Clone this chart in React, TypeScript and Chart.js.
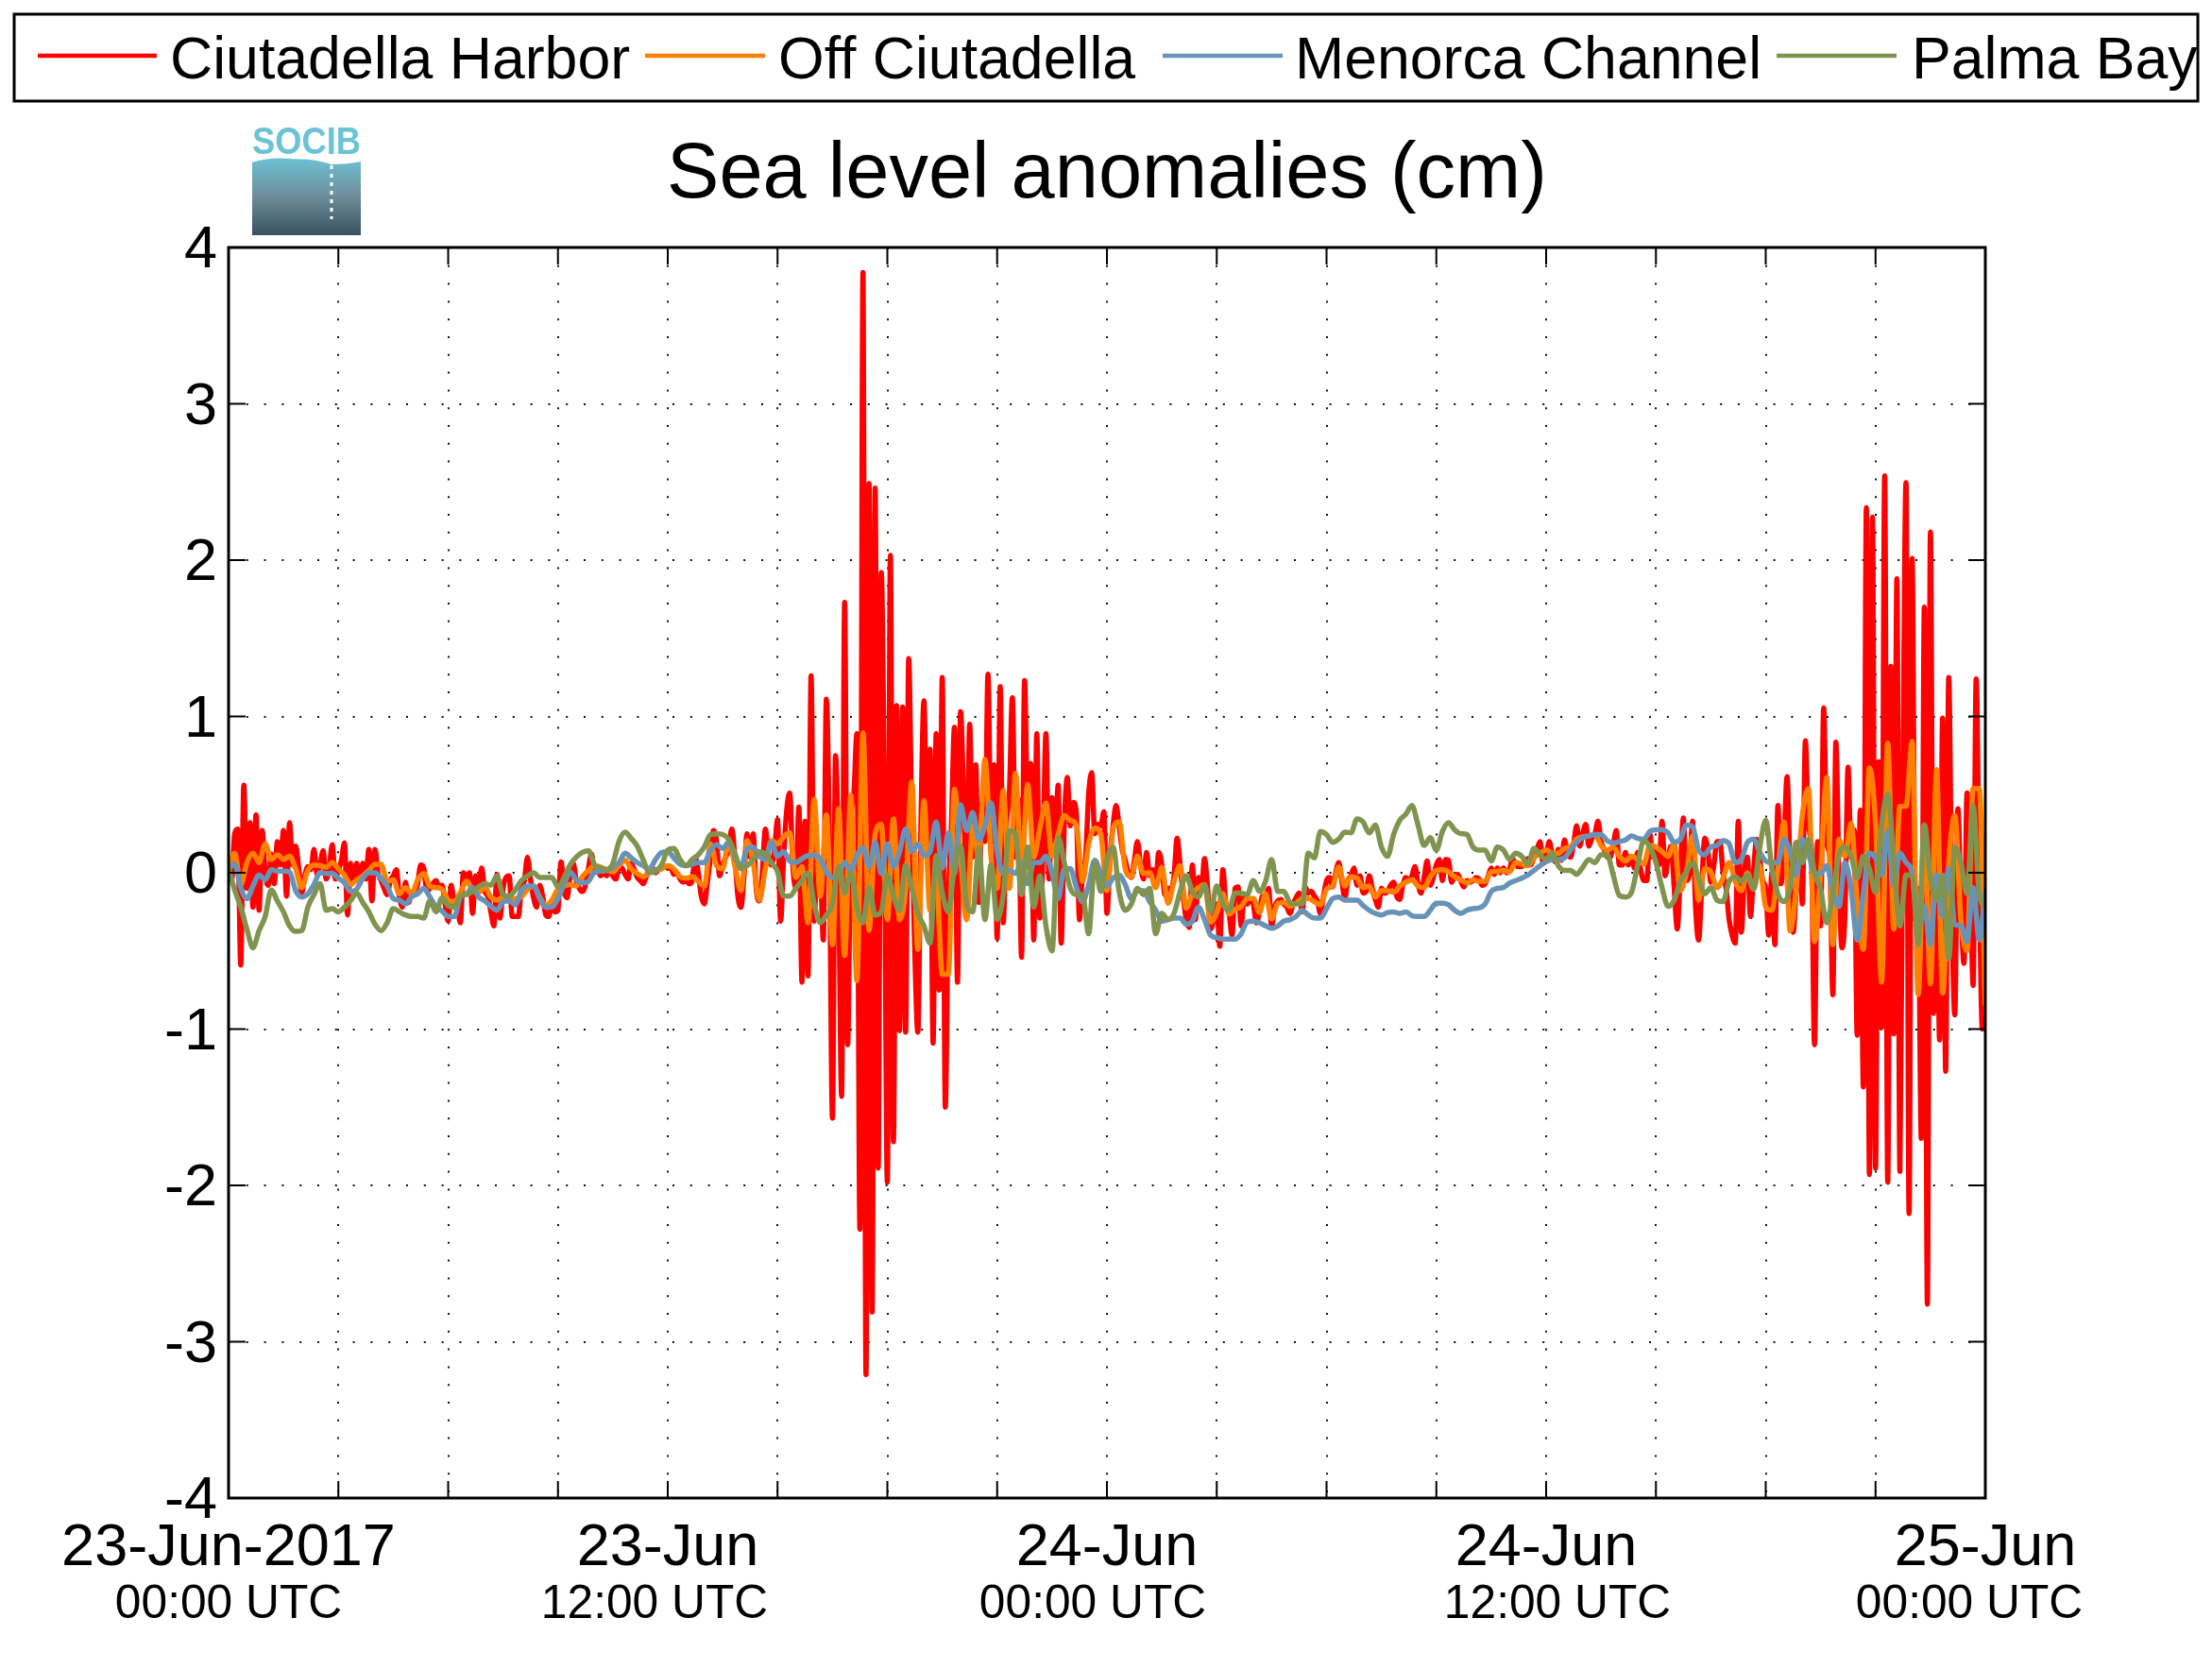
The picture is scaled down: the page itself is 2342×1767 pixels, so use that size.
import React, { useEffect, useRef } from "react";
import Chart from "chart.js/auto";

const seriesNames = ["Ciutadella Harbor", "Off Ciutadella", "Menorca Channel", "Palma Bay"];
const seriesColors = ["#ff0000", "#ff8000", "#6893b8", "#80944f"];

const dateLabels = ["23-Jun-2017", "23-Jun", "24-Jun", "24-Jun", "25-Jun"];
const timeLabels = ["00:00 UTC", "12:00 UTC", "00:00 UTC", "12:00 UTC", "00:00 UTC"];

// Harbor gauge read every 5 minutes, the others every 10
const harborStep = 5;
const otherStep = 10;

const harborValues = [
  .03,-.05,.25,.28,-.59,.56,-.1,.32,-.22,.37,
  -.24,.27,0,-.08,.12,-.07,.2,.05,.27,-.15,
  .32,.05,.17,.03,-.13,-.02,.04,.02,.15,-.01,
  .05,.14,-.04,.03,.18,-.04,.02,.08,.19,-.27,
  .06,-.06,.06,-.07,.06,-.04,.15,-.18,.15,0,
  -.05,-.1,-.14,-.05,-.02,.02,-.15,-.22,-.06,-.19,
  -.13,-.12,-.07,.05,.03,-.12,-.1,-.07,-.05,-.09,
  -.08,-.2,-.31,-.08,-.2,-.22,-.32,0,-.03,0,
  -.26,-.02,-.08,.03,-.12,-.15,-.25,-.34,-.01,-.29,
  -.1,-.03,-.02,-.28,-.28,-.28,-.1,-.05,.1,-.04,
  -.16,-.22,-.08,-.15,-.27,-.28,-.2,-.25,-.24,.07,
  -.12,-.16,-.02,.06,-.05,-.1,-.12,-.08,.03,.12,
  0,.02,-.02,0,-.02,.03,-.02,-.04,.04,.03,
  -.01,-.04,.06,.02,-.03,-.05,-.07,-.02,.02,.03,
  0,.02,.03,.04,.03,.03,-.01,0,-.04,-.06,
  -.05,-.07,-.05,.1,0,-.15,-.2,-.06,.1,.27,
  .2,-.02,.05,.1,.15,.28,.1,-.15,-.22,-.02,
  .25,.1,.25,-.1,-.18,0,.28,.1,.05,.15,
  .34,-.31,.1,.4,.51,.05,-.1,.42,-.7,.33,
  -.66,1.26,-.31,.1,.05,-.43,1.11,.2,-1.57,.75,
  0,-1.43,1.73,-1.1,.3,.5,.89,-2.28,3.84,-3.21,
  2.49,-2.81,2.46,-1.89,1.92,.5,-1.98,2.03,-1.72,1.07,
  -1.01,1.06,-1.02,1.37,.3,-.51,-1.02,.3,1.1,.2,
  .79,-1.09,.89,-.75,1.25,-1.5,-.2,.3,.93,-.7,
  1.03,.5,-.05,.95,.1,.69,-.19,.41,.2,1.27,
  .2,.69,-.42,1.19,-.32,.3,.5,1.12,.1,.47,
  -.54,1.23,.4,.7,-.43,.89,-.29,.1,.89,-.04,
  .48,.2,.56,-.45,.3,.61,.3,.45,.37,-.3,
  0,.1,.5,.64,.25,.31,.3,.39,-.26,.1,
  .3,.43,.3,.15,.08,0,-.03,.08,.2,.05,
  -.04,.13,-.02,.02,-.05,.13,.05,-.14,-.1,-.1,
  -.02,.22,.05,-.15,-.3,-.35,.05,-.3,-.03,-.1,
  .09,-.1,-.36,-.3,-.2,-.47,.02,-.2,-.25,-.4,
  -.1,-.09,-.34,-.16,-.2,-.17,-.2,-.32,-.25,-.15,
  -.15,-.1,-.34,-.22,-.18,-.17,-.2,-.22,-.26,-.2,
  -.16,-.13,-.25,-.09,-.13,-.12,-.15,-.18,-.26,-.15,
  -.05,-.03,-.09,0,.065,-.05,-.16,-.05,-.02,.03,
  -.08,-.02,-.13,-.12,-.02,-.1,-.17,-.22,-.1,-.13,
  -.12,-.08,-.06,-.15,-.17,-.08,-.03,-.05,-.02,.04,
  -.07,-.13,-.03,.075,-.08,-.03,.05,.085,-.05,.085,
  .08,-.06,-.02,-.01,-.05,-.09,-.05,-.06,-.05,-.03,
  -.04,-.08,-.07,-.02,.03,-.01,.03,0,.03,0,
  .02,.09,.05,.04,.04,.06,.09,.05,.1,.15,
  .2,.06,.1,.2,.12,.07,.15,.08,.21,.12,
  .1,.18,.3,.17,.25,.31,.17,.22,.25,.33,
  .2,.15,.1,.1,.18,.27,.05,.05,.13,.05,
  .1,.03,.13,.02,-.05,-.05,.25,.1,.15,.05,
  .33,-.02,.1,.17,-.1,-.36,0,.35,-.05,0,
  .33,-.22,-.43,-.1,.22,.15,-.06,.05,.2,.2,
  0,-.1,-.3,-.4,-.45,.33,-.38,0,.1,-.28,
  0,.215,.1,-.05,-.1,-.4,0,-.46,.43,-.07,
  .2,.615,0,-.38,-.1,.2,-.2,.845,.3,.15,
  -1.1,.2,-.34,1.055,.2,.1,-.78,.835,0,-.48,
  -.25,.675,.1,.275,-1.04,.4,-1.37,2.335,-1.93,2.275,
  -1.89,.71,-.99,2.54,-1.98,1.32,-1.03,1.88,-1.91,.6,
  2.495,-2.18,2.01,-.3,-.1,-1.7,1.7,-2.76,2.18,-.9,
  .3,-1.07,.99,-1.27,1.25,-.2,-.91,.41,-.2,-.58,
  .51,.1,-.72,1.24,0,-1,-.95,
];

const offshoreValues = [
  .025,.125,-.075,.065,.125,.065,.185,.085,.115,.085,
  .105,.025,-.095,.015,.05,.045,.035,.065,.025,-.015,
  -.075,-.045,-.02,.015,.055,.055,-.055,-.045,-.135,-.095,
  -.135,-.045,-.005,-.085,-.095,-.105,-.175,-.185,-.125,-.055,
  -.105,-.125,-.095,-.155,-.175,-.155,-.175,-.165,-.155,-.105,
  -.085,-.155,-.21,-.175,-.105,-.085,-.075,-.085,-.025,.015,
  .045,.035,.02,.005,.045,.08,.025,-.005,-.025,.005,
  .015,.025,.045,.025,-.025,-.035,-.025,-.055,-.085,.185,
  .045,.025,.205,.045,-.115,.205,.065,-.175,.025,.205,
  .185,.23,.255,-.03,.04,-.32,.47,-.15,.37,-.46,
  .41,-.53,.495,-.69,.895,-.37,.25,.31,-.3,.345,
  -.3,-.1,.58,-.49,.46,-.24,-.02,-.65,-.65,.535,
  .1,-.3,.3,.1,.725,.1,-.1,.525,-.1,.635,
  0,.565,.1,.285,.445,.105,.245,.365,.335,.305,
  -.055,.185,.285,.245,-.115,.285,.325,.025,-.025,.105,
  -.005,0,-.095,.035,-.195,-.055,.045,-.225,-.135,-.095,
  -.075,-.315,-.255,-.135,-.265,-.235,-.215,-.165,-.165,-.255,
  -.135,-.295,-.195,-.19,-.215,-.195,-.165,-.165,-.185,-.205,
  -.105,-.085,.035,-.085,-.025,-.035,-.095,-.085,-.155,-.115,
  -.115,-.125,-.085,-.06,-.045,-.085,-.095,-.025,.015,.02,
  .005,-.025,-.045,-.065,-.045,-.055,-.055,.005,.01,.015,
  .005,.065,.055,.045,.095,.125,.145,.125,.125,.155,
  .165,.215,.23,.235,.245,.175,.145,.165,.105,.075,
  .105,.085,.055,.175,.165,.135,.105,.185,-.115,.005,
  .235,-.175,.025,.005,-.095,-.035,.065,-.055,-.115,0,
  -.105,.045,-.22,-.24,.025,.325,-.37,-.1,.365,.54,
  -.44,0,.61,-.46,.215,.105,.315,-.2,-.49,.67,
  .315,-.7,.83,-.36,.425,.425,.84,-.78,.305,-.71,
  .66,-.77,.065,.365,-.3,-.5,.54,.54,-.84,
];

const channelValues = [
  .025,.055,-.095,-.165,-.085,-.015,-.045,.02,.01,.01,
  .005,-.115,-.155,-.135,-.075,0,-.005,-.005,-.035,-.065,
  -.12,-.105,-.035,0,0,-.035,-.085,-.165,-.175,-.2,
  -.155,-.135,-.1,-.155,-.215,-.245,-.28,-.28,-.155,-.135,
  -.095,-.155,-.18,-.215,-.24,-.185,-.18,-.205,-.115,-.085,
  -.085,-.165,-.22,-.22,-.165,-.075,.005,-.045,-.065,-.055,
  .005,.01,.015,.035,.065,.125,.095,.065,.045,.025,
  .085,.13,.135,.095,.055,.045,.055,.065,.065,.145,
  .18,.155,.195,.105,.035,.155,.165,.105,.085,.195,
  .105,.135,.075,.065,.09,.11,.11,.09,.005,-.03,
  -.005,.065,.015,.11,.16,.04,.195,-.005,.185,.04,
  .135,.28,.135,.185,.11,.135,.325,.03,.255,-.005,
  .435,.27,.385,.21,.3,.445,.135,-.005,.015,-.005,
  .065,-.07,.065,.065,.105,0,-.165,.025,.025,-.095,
  -.185,-.075,.08,-.005,-.085,-.035,-.015,-.075,-.165,-.115,
  -.115,-.185,-.24,-.31,-.3,-.29,-.29,-.33,-.31,-.22,
  -.3,-.4,-.415,-.425,-.425,-.425,-.39,-.315,-.31,-.32,
  -.34,-.355,-.34,-.31,-.3,-.28,-.24,-.27,-.29,-.29,
  -.23,-.165,-.155,-.175,-.175,-.175,-.21,-.24,-.26,-.27,
  -.255,-.25,-.26,-.25,-.275,-.28,-.28,-.24,-.195,-.195,
  -.205,-.24,-.26,-.24,-.23,-.225,-.2,-.12,-.1,-.095,
  -.065,-.05,-.035,-.015,.015,.045,.07,.085,.085,.095,
  .145,.195,.225,.235,.245,.245,.205,.19,.2,.21,
  .235,.22,.215,.265,.275,.275,.255,.195,.215,.305,
  .295,.145,.115,.165,.175,.205,.185,.065,.085,.195,
  .215,.135,.075,.065,.065,.215,.135,-.015,.215,.125,
  -.005,-.005,.045,-.125,-.215,.065,-.105,-.43,-.135,.125,
  .095,-.015,.265,-.075,.125,.065,0,-.36,-.215,-.46,
  -.015,-.28,.025,-.33,-.34,-.44,-.095,-.43,-.115,
];

const palmaValues = [
  .03,-.11,-.22,-.36,-.48,-.37,-.28,-.11,-.18,-.25,
  -.34,-.375,-.37,-.22,-.14,-.07,-.24,-.23,-.25,-.22,
  -.18,-.13,-.19,-.25,-.33,-.37,-.32,-.23,-.25,-.27,
  -.28,-.28,-.29,-.18,-.25,-.16,-.21,-.22,-.15,-.14,
  -.12,-.09,-.07,-.08,-.02,-.14,-.15,-.11,-.05,-.02,
  0,-.03,-.03,-.03,-.09,-.03,.05,.1,.13,.14,
  .05,.03,.02,.06,.2,.26,.22,.17,.08,0,
  .01,.05,.145,.155,.085,.045,.085,.115,.165,.245,
  .25,.245,.215,.125,.025,.045,.085,.135,.12,.065,
  .005,-.15,-.15,-.1,-.05,0,-.2,-.32,-.27,-.2,
  .04,-.13,0,-.22,-.32,-.09,-.27,-.25,-.01,-.15,
  -.24,.05,-.1,-.26,-.34,-.45,.11,-.13,-.25,.04,
  .17,-.2,-.25,.16,-.3,.05,-.3,-.14,.27,.25,
  -.14,.165,-.22,-.02,-.34,-.5,.23,.065,-.1,-.14,
  -.14,-.39,.065,-.12,.085,.165,-.12,-.24,-.2,-.1,
  -.14,-.1,-.39,-.26,-.3,-.26,-.12,-.02,-.12,-.155,
  -.08,-.25,-.085,-.2,-.24,-.13,-.13,-.14,-.05,-.12,
  -.055,.085,-.12,-.12,-.19,-.2,-.2,.125,.095,.265,
  .245,.195,.215,.26,.255,.345,.325,.255,.305,.165,
  .105,.245,.335,.375,.43,.305,.175,.225,.145,.265,
  .32,.275,.25,.245,.165,.145,.145,.075,.165,.145,
  .085,.125,.105,.055,.155,.115,.085,.125,.045,.015,
  .015,-.01,.035,.085,.065,.115,.115,-.015,-.145,-.155,
  -.125,.045,.205,.165,.065,-.095,-.215,-.175,-.055,.005,
  .065,-.035,-.135,-.095,-.175,-.185,-.055,-.025,-.055,-.015,
  -.105,.155,.335,.025,-.135,-.185,-.095,.195,.065,.215,
  0,-.105,-.32,-.135,.115,.165,.105,-.035,.105,.025,
  -.125,.305,.505,.065,-.34,-.015,-.015,-.46,.305,-.035,
  -.175,-.015,-.55,.165,.065,-.135,.43,-.135,-.225,
];

const FONT = '"Liberation Sans", Arial, sans-serif';

// Values are sampled on a regular clock, turn them into hour / value points
const toPoints = (values: number[], stepMinutes: number) =>
  values.map((y, i) => ({ x: (i * stepMinutes) / 60, y }));

// Legend box on top of the figure, with fixed columns like the original
const legendColumns = [
  { lineStart: 40, lineEnd: 166, textX: 180 },
  { lineStart: 683, lineEnd: 810, textX: 824 },
  { lineStart: 1231, lineEnd: 1358, textX: 1371 },
  { lineStart: 1881, lineEnd: 2008, textX: 2024 },
];

const legendPlugin = {
  id: "boxLegend",
  afterDraw(chart: Chart) {
    const { ctx } = chart;
    ctx.save();
    ctx.strokeStyle = "#000";
    ctx.lineWidth = 3;
    ctx.strokeRect(15, 15, 2312, 92);
    ctx.font = `62.6px ${FONT}`;
    ctx.fillStyle = "#000";
    ctx.textBaseline = "alphabetic";
    ctx.textAlign = "left";
    legendColumns.forEach((col, i) => {
      ctx.strokeStyle = seriesColors[i];
      ctx.lineWidth = 4.5;
      ctx.beginPath();
      ctx.moveTo(col.lineStart, 59);
      ctx.lineTo(col.lineEnd, 59);
      ctx.stroke();
      ctx.fillText(seriesNames[i], col.textX, 83);
    });
    ctx.restore();
  },
};

// SOCIB logo next to the title
const logoPlugin = {
  id: "logo",
  afterDraw(chart: Chart) {
    const { ctx } = chart;
    ctx.save();
    ctx.fillStyle = "#6cc3d6";
    ctx.font = `bold 41px ${FONT}`;
    ctx.textAlign = "left";
    ctx.textBaseline = "alphabetic";
    ctx.fillText("SOCIB", 267, 163, 115);

    const grad = ctx.createLinearGradient(0, 168, 0, 249);
    grad.addColorStop(0, "#6cc0d3");
    grad.addColorStop(0.45, "#6f929f");
    grad.addColorStop(1, "#3c5061");
    ctx.fillStyle = grad;
    ctx.beginPath();
    ctx.moveTo(267, 172);
    ctx.quadraticCurveTo(285, 166, 305, 168);
    ctx.quadraticCurveTo(335, 168, 350, 174);
    ctx.quadraticCurveTo(368, 174, 382, 171);
    ctx.lineTo(382, 249);
    ctx.lineTo(267, 249);
    ctx.closePath();
    ctx.fill();

    ctx.strokeStyle = "#fff";
    ctx.lineWidth = 3;
    ctx.setLineDash([4, 5]);
    ctx.beginPath();
    ctx.moveTo(351, 175);
    ctx.lineTo(351, 232);
    ctx.stroke();
    ctx.restore();
  },
};

// Box around the plot and the MATLAB style inward ticks on all four sides
const TICK_LEN = 18;
const framePlugin = {
  id: "frame",
  afterDatasetsDraw(chart: Chart) {
    const { ctx, chartArea, scales } = chart;
    const { left, right, top, bottom } = chartArea;
    ctx.save();
    ctx.strokeStyle = "#000";
    ctx.lineWidth = 2;
    ctx.beginPath();
    scales.x.ticks.forEach((t) => {
      const px = scales.x.getPixelForValue(t.value);
      ctx.moveTo(px, top);
      ctx.lineTo(px, top + TICK_LEN);
      ctx.moveTo(px, bottom);
      ctx.lineTo(px, bottom - TICK_LEN);
    });
    scales.y.ticks.forEach((t) => {
      const py = scales.y.getPixelForValue(t.value);
      ctx.moveTo(left, py);
      ctx.lineTo(left + TICK_LEN, py);
      ctx.moveTo(right, py);
      ctx.lineTo(right - TICK_LEN, py);
    });
    ctx.stroke();
    ctx.lineWidth = 3;
    ctx.strokeRect(left, top, right - left, bottom - top);
    ctx.restore();
  },
};

// Second row of the x labels, these sit a little off their ticks in the original
const timeLabelShift = [0, -14, -15, 12, -17];
const timeRowPlugin = {
  id: "timeRow",
  afterDraw(chart: Chart) {
    const { ctx, scales } = chart;
    ctx.save();
    ctx.font = `49.7px ${FONT}`;
    ctx.fillStyle = "#000";
    ctx.textAlign = "center";
    ctx.textBaseline = "alphabetic";
    timeLabels.forEach((label, i) => {
      ctx.fillText(label, scales.x.getPixelForValue(i * 12) + timeLabelShift[i], 1713);
    });
    ctx.restore();
  },
};

export default function App() {
  const chartRef = useRef<HTMLCanvasElement | null>(null);

  useEffect(() => {
    if (!chartRef.current) return;

    const series = [
      toPoints(harborValues, harborStep),
      toPoints(offshoreValues, otherStep),
      toPoints(channelValues, otherStep),
      toPoints(palmaValues, otherStep),
    ];

    const chart = new Chart(chartRef.current, {
      type: "line",
      data: {
        datasets: series.map((data, i) => ({
          label: seriesNames[i],
          data,
          borderColor: seriesColors[i],
          backgroundColor: seriesColors[i],
          borderWidth: 5.5,
          pointRadius: 0,
          cubicInterpolationMode: "monotone" as const,
          borderJoinStyle: "round" as const,
          borderCapStyle: "round" as const,
          order: series.length - i, // last series on top
        })),
      },
      options: {
        animation: false,
        responsive: false,
        devicePixelRatio: 1,
        parsing: false,
        normalized: true,
        layout: { padding: { top: 136, left: 142, right: 240, bottom: 51 } },
        plugins: {
          legend: { display: false },
          tooltip: { enabled: false },
          title: {
            display: true,
            text: "Sea level anomalies (cm)",
            color: "#000",
            fullSize: false,
            font: { family: FONT, size: 83, weight: "normal" },
            padding: { top: 0, bottom: 26.4 },
          },
        },
        scales: {
          x: {
            type: "linear",
            min: 0,
            max: 48,
            afterFit: (scale) => {
              scale.height = 130;
            },
            border: { display: false, dash: [2, 16.8] },
            grid: { color: "#111", lineWidth: 2, drawTicks: false },
            ticks: {
              stepSize: 3,
              autoSkip: false,
              maxRotation: 0,
              padding: 16,
              color: "#000",
              font: { family: FONT, size: 63 },
              callback: (value) =>
                Number(value) % 12 === 0 ? dateLabels[Number(value) / 12] : "",
            },
          },
          y: {
            min: -4,
            max: 4,
            afterFit: (scale) => {
              scale.width = 100;
            },
            border: { display: false, dash: [2, 16.8] },
            grid: { color: "#111", lineWidth: 2, drawTicks: false },
            ticks: {
              stepSize: 1,
              padding: 12,
              labelOffset: 4,
              color: "#000",
              font: { family: FONT, size: 63 },
            },
          },
        },
      },
      plugins: [framePlugin, legendPlugin, logoPlugin, timeRowPlugin],
    });

    return () => chart.destroy();
  }, []);

  return (
    <div style={{ position: "absolute", left: 0, top: 0, width: 2342, height: 1767, background: "#fff" }}>
      <canvas ref={chartRef} width={2342} height={1767} />
    </div>
  );
}
